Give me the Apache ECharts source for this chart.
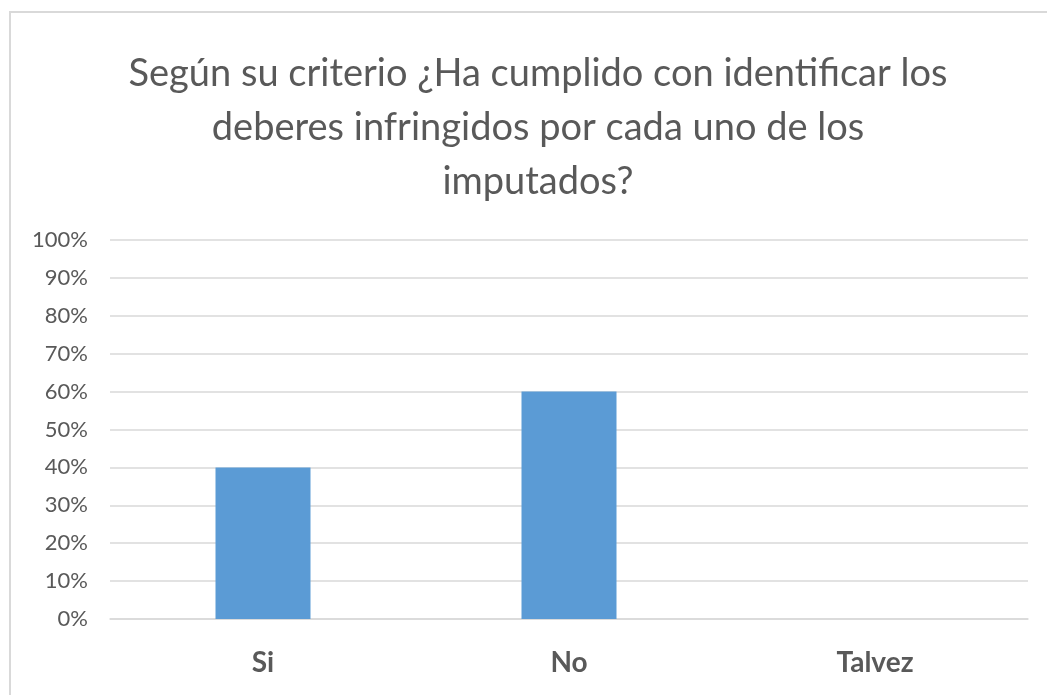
<!DOCTYPE html>
<html>
<head>
<meta charset="utf-8">
<script src="https://cdn.jsdelivr.net/npm/echarts@6/dist/echarts.min.js"></script>
<style>
  html, body { margin: 0; padding: 0; background: #fff; overflow: hidden; }
  #frame {
    position: absolute; left: 9px; top: 11px; width: 1060px; height: 720px;
    border: 2px solid #d9d9d9; pointer-events: none;
  }
  #chart { position: absolute; left: 0; top: 0; width: 1047px; height: 695px; }
</style>
</head>
<body>
<div id="chart"></div>
<div id="frame"></div>
<script>
  // datos
  const categories = ["Si", "No", "Talvez"];
  const values = [40, 60, 0];
  const titleText = "Según su criterio ¿Ha cumplido con identificar los\ndeberes infringidos por cada uno de los\nimputados?";

  const myChart = echarts.init(document.getElementById("chart"));

  const option = {
    animation: false,
    title: {
      text: titleText,
      left: 533,
      top: 42,
      textAlign: "center",
      textStyle: {
        fontFamily: "Lato",
        fontWeight: "normal",
        fontSize: 38,
        color: "#595959",
        lineHeight: 54,
      },
    },
    grid: {
      left: 110,
      right: 19,
      top: 240,
      bottom: 76,
    },
    xAxis: {
      type: "category",
      data: categories,
      axisLine: { lineStyle: { color: "#d9d9d9", width: 1.5 } },
      axisTick: { show: false },
      axisLabel: {
        margin: 30,
        fontFamily: "Lato",
        fontWeight: "bold",
        fontSize: 28,
        color: "#595959",
      },
    },
    yAxis: {
      type: "value",
      min: 0,
      max: 100,
      interval: 10,
      axisLine: { show: false },
      axisTick: { show: false },
      splitLine: { lineStyle: { color: "#d9d9d9", width: 1.5 } },
      axisLabel: {
        formatter: "{value}%",
        margin: 22,
        fontFamily: "Lato",
        fontSize: 22,
        color: "#595959",
      },
    },
    series: [
      {
        type: "bar",
        data: values,
        barWidth: 95,
        itemStyle: { color: "#5b9bd5" },
      },
    ],
  };

  myChart.setOption(option);
</script>
</body>
</html>
